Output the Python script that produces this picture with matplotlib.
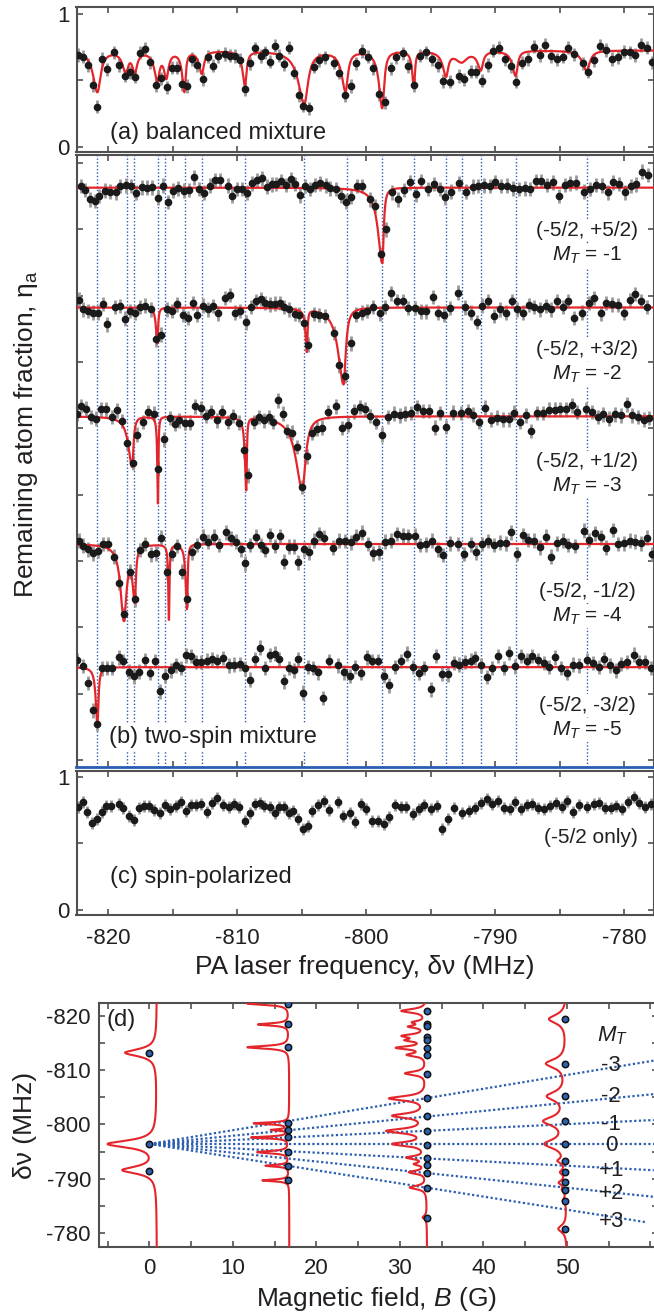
import numpy as np
import matplotlib
matplotlib.use("Agg")
import matplotlib.pyplot as plt
from matplotlib.ticker import MultipleLocator, FixedLocator, NullFormatter

plt.rcParams['font.family'] = ['Liberation Sans', 'DejaVu Sans']
plt.rcParams['mathtext.fontset'] = 'custom'
plt.rcParams['mathtext.rm'] = 'Liberation Sans'
plt.rcParams['mathtext.it'] = 'Liberation Sans:italic'
plt.rcParams['mathtext.bf'] = 'Liberation Sans:bold'
plt.rcParams['axes.unicode_minus'] = False

# ---------------- panel (a): balanced mixture ----------------
a_freq = [-822.35, -821.94, -821.56, -821.20, -820.88, -820.47, -820.09, -819.56, -819.15, -818.74,
          -818.33, -817.97, -817.56, -817.15, -816.74, -816.33, -815.92, -815.48, -815.10, -814.68,
          -814.30, -813.89, -813.48, -813.10, -812.69, -812.28, -811.87, -811.48, -810.95, -810.60,
          -810.16, -809.75, -809.37, -808.99, -808.60, -808.19, -807.81, -807.46, -807.08, -806.73,
          -806.34, -805.99, -805.61, -805.23, -804.87, -804.46, -804.05, -803.64, -803.23, -802.53,
          -802.11, -801.67, -801.20, -800.76, -800.35, -799.88, -799.44, -799.00, -798.56, -798.06,
          -797.65, -797.18, -796.74, -796.27, -795.83, -795.39, -794.89, -794.45, -794.01, -793.51,
          -792.83, -792.39, -791.89, -791.45, -791.01, -790.57, -790.13, -789.69, -789.25, -788.78,
          -788.34, -787.90, -787.46, -786.96, -786.55, -786.11, -785.64, -785.20, -784.76, -784.32,
          -783.88, -783.20, -782.76, -782.29, -781.85, -781.38, -780.90, -780.50, -780.00, -779.56,
          -779.12, -778.68, -778.24, -777.80]
a_eta = [0.691, 0.678, 0.616, 0.465, 0.302, 0.661, 0.583, 0.711, 0.616, 0.535,
         0.560, 0.528, 0.709, 0.736, 0.636, 0.465, 0.515, 0.447, 0.595, 0.595,
         0.470, 0.457, 0.661, 0.616, 0.510, 0.678, 0.611, 0.683, 0.698, 0.686,
         0.683, 0.653, 0.434, 0.628, 0.741, 0.683, 0.711, 0.641, 0.761, 0.686,
         0.621, 0.746, 0.558, 0.389, 0.309, 0.289, 0.603, 0.653, 0.673, 0.633,
         0.558, 0.389, 0.457, 0.628, 0.721, 0.678, 0.590, 0.394, 0.334, 0.590,
         0.673, 0.704, 0.608, 0.465, 0.686, 0.711, 0.661, 0.616, 0.495, 0.490,
         0.533, 0.508, 0.565, 0.565, 0.497, 0.615, 0.724, 0.746, 0.658, 0.608,
         0.490, 0.633, 0.661, 0.754, 0.691, 0.766, 0.683, 0.658, 0.678, 0.746,
         0.696, 0.628, 0.565, 0.653, 0.761, 0.729, 0.661, 0.673, 0.716, 0.711,
         0.691, 0.766, 0.746, 0.636]

# fit (a): centre, depth, left/right half widths
a_base = 0.725
a_fit_c = [-820.85, -818.65, -817.95, -816.2, -815.5, -814.1, -812.75, -809.4, -804.8, -801.6,
           -798.75, -796.3, -793.8, -792.6, -791.1, -788.4, -782.9]
a_fit_d = [0.31, 0.15, 0.15, 0.21, 0.19, 0.30, 0.17, 0.26, 0.40, 0.30,
           0.43, 0.27, 0.18, 0.08, 0.14, 0.19, 0.15]
a_fit_wl = [0.40, 0.30, 0.22, 0.28, 0.22, 0.20, 0.25, 0.22, 0.55, 0.35,
            0.30, 0.15, 0.30, 0.60, 0.30, 0.30, 0.40]
a_fit_wr = [0.30, 0.22, 0.22, 0.20, 0.20, 0.12, 0.20, 0.15, 0.35, 0.22,
            0.18, 0.10, 0.20, 0.50, 0.20, 0.18, 0.30]

# ---------------- panel (b): two-spin mixtures ----------------
b1_freq = [-822.14, -821.79, -821.41, -821.06, -820.70, -820.29, -819.91, -819.41, -819.06, -818.62,
           -818.24, -817.83, -817.42, -817.00, -816.62, -816.18, -815.77, -815.39, -814.95, -814.57,
           -814.16, -813.74, -813.33, -812.95, -812.57, -812.13, -811.75, -811.37, -810.75, -810.37,
           -810.01, -809.60, -809.22, -808.84, -808.49, -808.11, -807.69, -807.34, -806.96, -806.58,
           -806.23, -805.84, -805.49, -805.11, -804.73, -804.35, -803.96, -803.55, -803.11, -802.79,
           -802.32, -801.97, -801.53, -801.15, -800.73, -800.32, -799.74, -799.32, -798.85, -798.44,
           -798.00, -797.53, -797.09, -796.59, -796.15, -795.71, -795.21, -794.74, -794.30, -793.86,
           -793.39, -792.78, -792.28, -791.75, -791.31, -790.87, -790.43, -789.99, -789.54, -789.10,
           -788.63, -788.16, -787.69, -787.28, -786.81, -786.40, -785.96, -785.52, -785.05, -784.61,
           -784.17, -783.73, -783.08, -782.64, -782.20, -781.70, -781.26, -780.82, -780.35, -779.91,
           -779.47, -779.03, -778.59, -778.15]
b1_eta = [0.713, 0.682, 0.612, 0.600, 0.637, 0.677, 0.670, 0.665, 0.713, 0.718,
          0.713, 0.662, 0.703, 0.700, 0.703, 0.625, 0.715, 0.592, 0.677, 0.695,
          0.677, 0.682, 0.778, 0.690, 0.662, 0.715, 0.758, 0.758, 0.715, 0.640,
          0.690, 0.690, 0.662, 0.733, 0.758, 0.770, 0.708, 0.725, 0.728, 0.750,
          0.720, 0.763, 0.728, 0.642, 0.713, 0.690, 0.720, 0.733, 0.718, 0.695,
          0.690, 0.637, 0.595, 0.632, 0.713, 0.713, 0.612, 0.562, 0.200, 0.386,
          0.665, 0.612, 0.682, 0.740, 0.650, 0.750, 0.690, 0.728, 0.690, 0.627,
          0.670, 0.733, 0.670, 0.708, 0.713, 0.718, 0.713, 0.743, 0.713, 0.715,
          0.695, 0.690, 0.695, 0.690, 0.750, 0.750, 0.720, 0.740, 0.637, 0.720,
          0.733, 0.738, 0.670, 0.690, 0.720, 0.715, 0.665, 0.740, 0.728, 0.665,
          0.713, 0.725, 0.821, 0.795]

b2_freq = [-822.29, -821.94, -821.56, -821.17, -820.82, -820.44, -820.09, -819.50, -819.12, -818.71,
           -818.33, -817.94, -817.53, -817.15, -816.71, -816.27, -815.89, -815.48, -815.07, -814.65,
           -814.21, -813.83, -813.45, -813.10, -812.69, -812.25, -811.86, -811.48, -810.92, -810.54,
           -810.16, -809.75, -809.34, -808.96, -808.57, -808.19, -807.81, -807.43, -807.08, -806.70,
           -806.34, -805.96, -805.55, -805.20, -804.82, -804.52, -804.08, -803.64, -803.20, -802.53,
           -802.11, -801.67, -801.20, -800.76, -800.35, -799.91, -799.44, -798.94, -798.56, -798.06,
           -797.62, -797.18, -796.74, -796.21, -795.77, -795.33, -794.83, -794.39, -793.95, -793.51,
           -792.86, -792.33, -791.89, -791.42, -791.01, -790.57, -790.07, -789.63, -789.19, -788.72,
           -788.28, -787.87, -787.40, -786.99, -786.52, -786.08, -785.64, -785.20, -784.76, -784.34,
           -783.87, -783.23, -782.73, -782.29, -781.82, -781.41, -780.94, -780.50, -780.00, -779.56,
           -779.12, -778.68, -778.24]
b2_eta = [0.760, 0.685, 0.675, 0.662, 0.662, 0.725, 0.572, 0.705, 0.710, 0.617,
          0.675, 0.662, 0.705, 0.715, 0.685, 0.459, 0.496, 0.685, 0.675, 0.723,
          0.642, 0.622, 0.735, 0.647, 0.715, 0.687, 0.710, 0.655, 0.773, 0.793,
          0.662, 0.675, 0.587, 0.705, 0.750, 0.763, 0.735, 0.723, 0.730, 0.735,
          0.705, 0.687, 0.650, 0.647, 0.584, 0.421, 0.650, 0.642, 0.635, 0.509,
          0.265, 0.185, 0.429, 0.647, 0.662, 0.675, 0.705, 0.655, 0.705, 0.806,
          0.750, 0.750, 0.697, 0.697, 0.672, 0.672, 0.780, 0.662, 0.642, 0.697,
          0.811, 0.700, 0.662, 0.592, 0.713, 0.748, 0.637, 0.685, 0.662, 0.748,
          0.687, 0.662, 0.718, 0.705, 0.685, 0.710, 0.687, 0.750, 0.705, 0.748,
          0.622, 0.662, 0.735, 0.773, 0.655, 0.735, 0.723, 0.718, 0.660, 0.755,
          0.801, 0.748, 0.705]

b3_freq = [-822.40, -822.09, -821.70, -821.32, -820.94, -820.59, -820.18, -819.74, -819.30, -818.91,
           -818.53, -818.12, -817.74, -817.30, -816.89, -816.48, -816.12, -815.65, -815.24, -814.86,
           -814.48, -814.07, -813.66, -813.25, -812.83, -812.42, -812.01, -811.60, -811.19, -810.75,
           -810.31, -809.90, -809.51, -809.13, -808.72, -808.34, -807.90, -807.55, -807.22, -806.87,
           -806.46, -806.11, -805.76, -805.34, -804.99, -804.61, -804.20, -803.82, -803.44, -802.97,
           -802.32, -801.88, -801.44, -800.91, -800.50, -800.09, -799.68, -799.21, -798.77, -798.33,
           -797.86, -797.39, -796.97, -796.50, -796.03, -795.57, -795.12, -794.65, -794.24, -793.77,
           -793.27, -792.63, -792.13, -791.72, -791.28, -790.81, -790.34, -789.84, -789.40, -788.93,
           -788.52, -788.07, -787.63, -787.19, -786.75, -786.31, -785.81, -785.34, -784.93, -784.46,
           -784.05, -783.61, -782.94, -782.50, -782.05, -781.61, -781.17, -780.70, -780.23, -779.79,
           -779.35, -778.91, -778.47, -778.03]
b3_eta = [0.720, 0.778, 0.758, 0.695, 0.682, 0.753, 0.753, 0.695, 0.745, 0.665,
          0.499, 0.351, 0.562, 0.657, 0.733, 0.720, 0.306, 0.527, 0.687, 0.645,
          0.670, 0.650, 0.652, 0.775, 0.763, 0.703, 0.733, 0.670, 0.733, 0.657,
          0.703, 0.652, 0.444, 0.255, 0.657, 0.695, 0.670, 0.695, 0.657, 0.821,
          0.720, 0.589, 0.577, 0.469, 0.167, 0.398, 0.574, 0.607, 0.615, 0.733,
          0.775, 0.612, 0.637, 0.738, 0.770, 0.753, 0.703, 0.657, 0.562, 0.695,
          0.720, 0.708, 0.720, 0.725, 0.770, 0.740, 0.740, 0.615, 0.725, 0.620,
          0.728, 0.725, 0.740, 0.713, 0.657, 0.765, 0.675, 0.690, 0.677, 0.677,
          0.728, 0.657, 0.708, 0.589, 0.725, 0.725, 0.750, 0.750, 0.753, 0.753,
          0.783, 0.733, 0.753, 0.733, 0.695, 0.715, 0.682, 0.715, 0.708, 0.790,
          0.708, 0.695, 0.675, 0.687]

b4_freq = [-822.29, -821.94, -821.56, -821.17, -820.82, -820.44, -820.03, -819.56, -819.15, -818.77,
           -818.33, -817.94, -817.53, -817.12, -816.71, -816.33, -815.89, -815.45, -815.07, -814.65,
           -814.27, -813.86, -813.48, -813.10, -812.66, -812.25, -811.84, -811.42, -810.90, -810.48,
           -810.10, -809.72, -809.37, -808.99, -808.57, -808.19, -807.81, -807.43, -807.08, -806.70,
           -806.34, -805.96, -805.61, -805.26, -804.82, -804.43, -804.02, -803.64, -803.26, -802.55,
           -802.11, -801.67, -801.20, -800.76, -800.32, -799.88, -799.44, -799.00, -798.56, -798.09,
           -797.62, -797.18, -796.74, -796.24, -795.80, -795.36, -794.89, -794.45, -794.01, -793.51,
           -792.86, -792.39, -791.89, -791.45, -791.01, -790.57, -790.07, -789.63, -789.19, -788.75,
           -788.31, -787.87, -787.43, -786.99, -786.52, -786.08, -785.64, -785.20, -784.76, -784.32,
           -783.82, -783.14, -782.70, -782.26, -781.82, -781.38, -780.88, -780.44, -780.00, -779.56,
           -779.12, -778.68, -778.24, -777.80]
b4_eta = [0.725, 0.687, 0.660, 0.630, 0.650, 0.700, 0.700, 0.605, 0.409, 0.172,
          0.491, 0.283, 0.655, 0.700, 0.622, 0.630, 0.748, 0.491, 0.625, 0.685,
          0.491, 0.283, 0.637, 0.692, 0.755, 0.718, 0.755, 0.692, 0.788, 0.743,
          0.718, 0.660, 0.554, 0.692, 0.755, 0.692, 0.655, 0.768, 0.685, 0.760,
          0.567, 0.680, 0.680, 0.562, 0.660, 0.637, 0.725, 0.775, 0.748, 0.672,
          0.725, 0.723, 0.713, 0.755, 0.785, 0.700, 0.630, 0.637, 0.718, 0.725,
          0.775, 0.763, 0.760, 0.763, 0.692, 0.697, 0.725, 0.660, 0.617, 0.705,
          0.700, 0.625, 0.697, 0.637, 0.700, 0.723, 0.692, 0.710, 0.705, 0.788,
          0.625, 0.768, 0.730, 0.725, 0.675, 0.755, 0.605, 0.705, 0.725, 0.692,
          0.685, 0.801, 0.730, 0.780, 0.750, 0.672, 0.806, 0.700, 0.705, 0.725,
          0.718, 0.705, 0.748, 0.625]

b5_freq = [-822.44, -821.94, -821.56, -821.20, -820.88, -820.47, -820.09, -819.71, -819.21, -818.83,
           -818.41, -818.00, -817.59, -817.18, -816.77, -816.36, -815.98, -815.57, -815.15, -814.74,
           -814.36, -813.98, -813.57, -813.19, -812.78, -812.36, -811.95, -811.54, -811.13, -810.63,
           -810.22, -809.81, -809.43, -809.02, -808.63, -808.25, -807.87, -807.46, -807.08, -806.73,
           -806.34, -805.96, -805.61, -805.26, -804.90, -804.52, -804.14, -803.73, -803.32, -802.85,
           -802.17, -801.73, -801.29, -800.85, -800.41, -799.97, -799.53, -799.09, -798.65, -798.21,
           -797.77, -797.27, -796.86, -796.36, -795.92, -795.48, -794.98, -794.57, -794.13, -793.69,
           -793.22, -792.78, -792.33, -791.89, -791.57, -791.10, -790.66, -790.22, -789.78, -789.34,
           -788.90, -788.43, -787.99, -787.55, -787.11, -786.67, -786.23, -785.78, -785.34, -784.90,
           -784.40, -783.96, -783.52, -782.85, -782.41, -781.97, -781.53, -781.09, -780.64, -780.20,
           -779.76, -779.26, -778.82, -778.38, -777.94]
b5_eta = [0.755, 0.708, 0.582, 0.374, 0.274, 0.692, 0.695, 0.695, 0.775, 0.745,
          0.667, 0.630, 0.667, 0.755, 0.655, 0.745, 0.517, 0.632, 0.675, 0.713,
          0.695, 0.788, 0.783, 0.738, 0.738, 0.750, 0.763, 0.745, 0.768, 0.713,
          0.720, 0.725, 0.692, 0.607, 0.758, 0.846, 0.695, 0.793, 0.801, 0.763,
          0.592, 0.695, 0.675, 0.763, 0.507, 0.700, 0.695, 0.662, 0.469, 0.745,
          0.713, 0.662, 0.632, 0.700, 0.655, 0.775, 0.745, 0.745, 0.637, 0.562,
          0.700, 0.745, 0.801, 0.700, 0.655, 0.695, 0.532, 0.783, 0.650, 0.645,
          0.730, 0.720, 0.738, 0.750, 0.770, 0.713, 0.625, 0.695, 0.783, 0.695,
          0.808, 0.705, 0.783, 0.750, 0.783, 0.755, 0.730, 0.700, 0.775, 0.695,
          0.655, 0.720, 0.713, 0.755, 0.730, 0.700, 0.763, 0.713, 0.675, 0.725,
          0.738, 0.795, 0.738, 0.738, 0.695]

b_offsets = [3.613, 2.71, 1.89, 0.928, 0.0]
b_base = 0.70
b_pairs = ["(-5/2, +5/2)", "(-5/2, +3/2)", "(-5/2, +1/2)", "(-5/2, -1/2)", "(-5/2, -3/2)"]
b_mt = ["-1", "-2", "-3", "-4", "-5"]
b_pair_y = [3.99, 3.09, 2.248, 1.268, 0.414]
b_mt_y = [3.80, 2.91, 2.065, 1.085, 0.226]

# fitted resonances per row: centre, depth, left/right half widths
b_fit_c = [[-798.74],
           [-816.2, -804.6, -801.75],
           [-818.15, -816.15, -809.3, -804.95],
           [-818.8, -817.95, -815.3, -813.9],
           [-820.85]]
b_fit_d = [[0.57], [0.27, 0.32, 0.58], [0.38, 0.66, 0.55, 0.55], [0.56, 0.40, 0.57, 0.49], [0.43]]
b_fit_wl = [[0.40], [0.12, 0.12, 0.50], [0.35, 0.06, 0.12, 0.60], [0.30, 0.20, 0.06, 0.12], [0.15]]
b_fit_wr = [[0.12], [0.07, 0.06, 0.20], [0.12, 0.04, 0.05, 0.30], [0.25, 0.10, 0.05, 0.06], [0.10]]

# resonance positions (blue dotted lines)
res_lines = [-820.85, -818.53, -818.03, -816.18, -815.59, -814.07, -812.75, -809.37, -804.82,
             -801.5, -798.74, -796.3, -793.8, -792.57, -791.1, -788.37, -782.85]

# ---------------- panel (c): spin polarized ----------------
c_freq = [-822.35, -821.94, -821.62, -821.26, -820.88, -820.53, -820.18, -819.79, -819.21, -818.83,
          -818.41, -818.00, -817.65, -817.24, -816.83, -816.42, -816.01, -815.59, -815.18, -814.77,
          -814.36, -813.95, -813.57, -813.19, -812.78, -812.36, -811.95, -811.54, -811.13, -810.63,
          -810.22, -809.84, -809.43, -809.02, -808.63, -808.25, -807.90, -807.49, -807.11, -806.73,
          -806.34, -805.99, -805.64, -805.26, -804.93, -804.55, -804.17, -803.76, -803.29, -802.88,
          -802.20, -801.76, -801.29, -800.85, -800.41, -800.00, -799.53, -799.09, -798.65, -798.21,
          -797.77, -797.33, -796.89, -796.36, -795.92, -795.48, -794.98, -794.54, -794.10, -793.69,
          -793.19, -792.54, -792.04, -791.57, -791.13, -790.66, -790.22, -789.75, -789.31, -788.87,
          -788.43, -787.99, -787.55, -787.11, -786.67, -786.23, -785.75, -785.28, -784.84, -784.40,
          -783.96, -783.52, -782.85, -782.35, -781.91, -781.47, -781.03, -780.59, -780.14, -779.70,
          -779.26, -778.82, -778.38, -777.88]
c_eta = [0.775, 0.808, 0.738, 0.655, 0.680, 0.733, 0.780, 0.780, 0.795, 0.763,
         0.705, 0.675, 0.768, 0.780, 0.780, 0.750, 0.725, 0.788, 0.755, 0.783,
         0.813, 0.745, 0.788, 0.788, 0.793, 0.733, 0.800, 0.838, 0.788, 0.770,
         0.793, 0.770, 0.670, 0.725, 0.793, 0.800, 0.780, 0.775, 0.730, 0.775,
         0.770, 0.725, 0.743, 0.680, 0.605, 0.633, 0.743, 0.788, 0.818, 0.750,
         0.813, 0.708, 0.725, 0.663, 0.793, 0.755, 0.668, 0.668, 0.645, 0.700,
         0.788, 0.775, 0.775, 0.720, 0.758, 0.788, 0.755, 0.780, 0.605, 0.680,
         0.763, 0.725, 0.745, 0.768, 0.805, 0.833, 0.795, 0.820, 0.768, 0.755,
         0.813, 0.755, 0.788, 0.795, 0.763, 0.755, 0.783, 0.800, 0.770, 0.818,
         0.738, 0.788, 0.775, 0.793, 0.800, 0.763, 0.763, 0.783, 0.755, 0.808,
         0.845, 0.805, 0.770, 0.795]

a_err, b_err, c_err = 0.05, 0.055, 0.045

# ---------------- panel (d): field dependence ----------------
d_fields = [0.0, 16.6, 33.2, 49.8]
d_res = [[-813.2, -796.4, -791.5],
         [-822.1, -818.4, -814.2, -800.2, -799.0, -797.6, -794.9, -792.4, -789.7],
         [-820.85, -818.53, -818.03, -816.18, -815.59, -814.07, -812.75, -809.37, -804.82,
          -801.5, -798.74, -796.3, -793.8, -792.57, -791.1, -788.37, -782.85],
         [-819.4, -811.2, -805.2, -800.6, -796.4, -793.3, -791.2, -789.4, -788.0, -786.0, -780.8]]
# spectra drawn along each field column: base position (G), dips (centre, amplitude G, half width MHz)
d_spec_base = [0.9, 16.75, 33.25, 50.0]
d_spec_c = [[-813.2, -796.4, -791.6],
            [-822.25, -818.4, -814.2, -800.2, -799.0, -797.6, -794.9, -792.4, -789.7],
            [-820.9, -818.8, -818.0, -816.3, -815.5, -814.1, -812.8, -809.4, -804.8, -801.6,
             -798.8, -796.4, -793.9, -792.7, -791.2, -788.4, -782.9],
            [-819.4, -811.2, -805.2, -800.6, -796.4, -793.3, -791.2, -789.3, -788.0, -786.0, -780.8]]
d_spec_a = [[3.8, 5.8, 4.0],
            [5.0, 3.7, 5.0, 4.2, 2.0, 4.5, 3.8, 2.8, 3.2],
            [3.0, 1.4, 1.9, 2.6, 2.0, 3.4, 2.1, 2.5, 4.4, 3.9, 4.6, 3.9, 2.2, 1.2, 2.0, 2.0, 0.5],
            [2.1, 2.4, 2.2, 2.6, 2.5, 0.8, 0.6, 0.8, 0.4, 0.4, 1.0]]
d_spec_w = [[0.8, 0.8, 0.8],
            [0.3, 0.25, 0.3, 0.2, 0.15, 0.2, 0.25, 0.2, 0.2],
            [0.4, 0.3, 0.3, 0.35, 0.3, 0.35, 0.35, 0.4, 0.5, 0.5, 0.5, 0.45, 0.35, 0.3, 0.35, 0.4, 0.4],
            [1.0, 1.0, 1.0, 1.0, 1.0, 0.5, 0.5, 0.5, 0.5, 0.5, 0.8]]
fan_origin = -796.4
fan_mt = ["-3", "-2", "-1", "0", "+1", "+2", "+3"]
fan_slope = [-0.254, -0.152, -0.073, 0.0, 0.080, 0.161, 0.242]
fan_end = [60.4, 60.4, 60.4, 60.4, 60.4, 60.4, 59.5]
fan_label_y = [-810.8, -805.2, -799.9, -796.2, -791.6, -787.2, -782.1]

# ---------------- helpers ----------------
def dip_curve(x, base, cs, ds, wls, wrs):
    y = np.full_like(x, base, dtype=float)
    for c, d, wl, wr in zip(cs, ds, wls, wrs):
        w = np.where(x < c, wl, wr)
        y -= d / (1.0 + ((x - c) / w) ** 2)
    return y

W, H = 654, 1314
fig = plt.figure(figsize=(W / 100, H / 100), dpi=100)

def add_ax(l, t, r, b):
    return fig.add_axes([l / W, 1 - b / H, (r - l) / W, (b - t) / H])

SPINE = '#505050'
TXT = '#231f20'
RED = '#e3262b'
BLUE = '#2a5db0'
GREY = '#9a9a9a'
FS = 15      # row labels / small annotations
PFS = 17     # panel labels
TFS = 16     # tick labels
LFS = 19     # axis labels

def style(ax):
    for s in ax.spines.values():
        s.set_color(SPINE)
        s.set_linewidth(1.5)
    ax.tick_params(which='both', direction='in', top=True, right=True, length=4, width=1.2,
                   color=SPINE, labelsize=TFS, labelcolor=TXT)

XL = (-822.47, -777.71)
ax_a = add_ax(76.5, 7.3, 653.5, 151.7)
ax_b = add_ax(76.5, 155, 653.5, 766.7)
ax_c = add_ax(76.5, 771, 653.5, 915)
ax_d = add_ax(99.3, 1002.7, 658, 1246.7)

xf = np.linspace(XL[0], XL[1], 4000)

def data_plot(ax, x, y, err, off=0.0):
    ax.errorbar(x, np.array(y) + off, yerr=err, fmt='none', ecolor=GREY, elinewidth=2, zorder=2)
    ax.plot(x, np.array(y) + off, 'o', ms=4.5, color='#1a1a1a', zorder=4)

for ax in (ax_a, ax_b, ax_c):
    style(ax)
    ax.set_xlim(*XL)
    ax.xaxis.set_major_locator(MultipleLocator(10))
    ax.xaxis.set_minor_locator(MultipleLocator(5))

# (a)
ax_a.set_ylim(-0.038, 1.05)
ax_a.plot(xf, dip_curve(xf, a_base, a_fit_c, a_fit_d, a_fit_wl, a_fit_wr), color=RED, lw=1.6, zorder=3)
data_plot(ax_a, a_freq, a_eta, a_err)
ax_a.text(-819.87, 0.10, "(a) balanced mixture", fontsize=PFS, color=TXT, ha='left', va='center')

# (b)
ax_b.set_ylim(-0.05, 4.559)
for xv in res_lines:
    ax_b.axvline(xv, color=BLUE, lw=1.0, ls=(0, (1, 1.5)), zorder=1)
rows = [(b1_freq, b1_eta), (b2_freq, b2_eta), (b3_freq, b3_eta), (b4_freq, b4_eta), (b5_freq, b5_eta)]
for i, (fx, fy) in enumerate(rows):
    off = b_offsets[i]
    ax_b.plot(xf, dip_curve(xf, b_base, b_fit_c[i], b_fit_d[i], b_fit_wl[i], b_fit_wr[i]) + off,
              color=RED, lw=1.6, zorder=3)
    data_plot(ax_b, fx, fy, b_err, off)
    bb = dict(facecolor='white', edgecolor='none', pad=1.0)
    ax_b.text(-782.85, b_pair_y[i], b_pairs[i], fontsize=FS, color=TXT, ha='center', va='center',
              bbox=bb, zorder=5)
    ax_b.text(-782.85, b_mt_y[i], r"$M_T$ = " + b_mt[i], fontsize=FS, color=TXT, ha='center',
              va='center', bbox=bb, zorder=5)
ax_b.text(-819.94, 0.176, "(b) two-spin mixture", fontsize=PFS, color=TXT, ha='left', va='center',
          bbox=dict(facecolor='white', edgecolor='none', pad=2.0), zorder=5)
ax_b.yaxis.set_major_locator(MultipleLocator(0.5))
ax_b.yaxis.set_major_formatter(NullFormatter())
ax_b.xaxis.set_major_formatter(NullFormatter())
ax_b.spines['bottom'].set_color(BLUE)
ax_b.spines['bottom'].set_linewidth(2.0)
ax_a.xaxis.set_major_formatter(NullFormatter())

for ax in (ax_a, ax_c):
    ax.yaxis.set_major_locator(FixedLocator([0, 1]))
    ax.yaxis.set_minor_locator(FixedLocator([0.5]))
    ax.set_yticklabels(['0', '1'])
    ax.tick_params(axis='y', pad=5)

# (c)
ax_c.set_ylim(-0.038, 1.043)
data_plot(ax_c, c_freq, c_eta, c_err)
ax_c.text(-819.9, 0.25, "(c) spin-polarized", fontsize=PFS, color=TXT, ha='left', va='center')
ax_c.text(-782.6, 0.545, "(-5/2 only)", fontsize=FS, color=TXT, ha='center', va='center')
ax_c.tick_params(axis='x', pad=9)

# (d)
style(ax_d)
ax_d.set_xlim(-6.0, 60.9)
ax_d.set_ylim(-777.5, -822.4)
ax_d.xaxis.set_major_locator(FixedLocator([0, 10, 20, 30, 40, 50]))
ax_d.xaxis.set_minor_locator(FixedLocator([-5, 5, 15, 25, 35, 45, 55, 60]))
ax_d.yaxis.set_major_locator(FixedLocator([-820, -810, -800, -790, -780]))
ax_d.yaxis.set_minor_locator(FixedLocator([-815, -805, -795, -785]))
ax_d.tick_params(axis='x', pad=8)
ax_d.tick_params(axis='y', pad=6)
nu = np.linspace(-822.4, -777.5, 3000)
for k in range(4):
    xs = dip_curve(nu, d_spec_base[k], d_spec_c[k], d_spec_a[k], d_spec_w[k], d_spec_w[k])
    ax_d.plot(xs, nu, color=RED, lw=1.5, zorder=3)
for slope, bend in zip(fan_slope, fan_end):
    ax_d.plot([0, bend], [fan_origin, fan_origin + slope * bend], color=BLUE, lw=1.6,
              ls=(0, (1, 1.1)), zorder=2)
for k, B in enumerate(d_fields):
    ax_d.plot([B] * len(d_res[k]), d_res[k], 'o', ms=4.6, mfc='#2d62b0', mec='#111111', mew=1.1,
              zorder=4)
ax_d.text(-5.1, -819.2, "(d)", fontsize=PFS, color=TXT, ha='left', va='center')
ax_d.text(55.5, -816.3, r"$M_T$", fontsize=FS + 1, color=TXT, ha='center', va='center')
for lab, yv in zip(fan_mt, fan_label_y):
    ax_d.text(55.3, yv, lab, fontsize=FS + 1, color=TXT, ha='center', va='center', zorder=5)

# axis labels
fig.text(26 / W, 1 - 434 / H, r"Remaining atom fraction, $\mathregular{\eta_a}$", rotation=90,
         fontsize=LFS, color=TXT, ha='center', va='center')
fig.text(365 / W, 1 - 967 / H, "PA laser frequency, δν (MHz)", fontsize=LFS, color=TXT,
         ha='center', va='center')
fig.text(376.7 / W, 1 - 1299 / H, r"Magnetic field, $B$ (G)", fontsize=LFS, color=TXT,
         ha='center', va='center')
fig.text(25 / W, 1 - 1125 / H, "δν (MHz)", rotation=90, fontsize=LFS, color=TXT,
         ha='center', va='center')

fig.savefig("out.png", dpi=100)
